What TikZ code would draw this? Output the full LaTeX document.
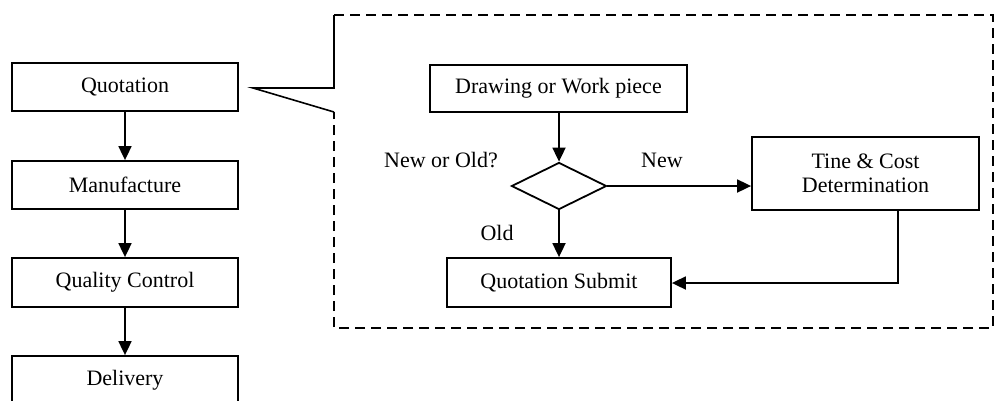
\documentclass[tikz,border=0pt]{standalone}
\usepackage{fontspec}
\setmainfont{Liberation Serif}
\usetikzlibrary{arrows.meta,shapes.geometric}
\tikzset{
  box/.style={draw, line width=1.8pt, inner sep=0pt, align=center,
    font=\fontsize{22}{25}\selectfont},
  lbl/.style={inner sep=0pt, font=\fontsize{22}{25}\selectfont},
  flow/.style={line width=1.8pt, -{Triangle[length=14pt,width=13pt]}},
  callout/.style={line width=1.6pt},
}
\begin{document}
\begin{tikzpicture}[x=1pt,y=-1pt]
\clip (0,0) rectangle (995,400);
\fill[white] (0,0) rectangle (995,400);

% main process chain
\node[box, minimum width=226pt, minimum height=48pt] (quo) at (125,87) {Quotation};
\node[box, minimum width=226pt, minimum height=48pt] (man) at (125,185) {Manufacture};
\node[box, minimum width=226pt, minimum height=49pt] (qc)  at (125,282.5) {Quality Control};
\node[box, minimum width=226pt, minimum height=48pt] (del) at (125,380) {Delivery};
\draw[flow] (quo) -- (man);
\draw[flow] (man) -- (qc);
\draw[flow] (qc) -- (del);

% callout frame
\coordinate (tip) at (253,88);
\draw[callout] (334,112) -- (tip) -- (334,88) -- (334,15);
\draw[callout, dash pattern=on 10pt off 6pt]
  (334,15) -- (993,15) -- (993,328) -- (334,328) -- (334,112);

% quotation detail
\node[box, minimum width=257pt, minimum height=47pt] (draw) at (558.5,88.5) {Drawing or Work piece};
\node[draw, diamond, line width=1.8pt, inner sep=0pt, minimum width=95pt, minimum height=47pt, aspect=2] (dec) at (559,186) {};
\node[box, minimum width=224pt, minimum height=49pt] (sub) at (559,282.5) {Quotation Submit};
\node[box, minimum width=227pt, minimum height=73pt] (tc) at (865.5,173.5) {Tine \& Cost\\[-1pt]Determination};

\node[lbl] at (441,160) {New or Old?};
\node[lbl] at (497,233) {Old};
\node[lbl] at (662,160) {New};

\draw[flow] (draw.south -| dec.north) -- (dec.north);
\draw[flow] (dec.south) -- (sub.north);
\draw[flow] (dec.east) -- (dec.east -| tc.west);
\coordinate (back) at (898,283);
\draw[flow] (tc.south -| back) -- (back) -- (sub.east |- back);
\end{tikzpicture}
\end{document}
